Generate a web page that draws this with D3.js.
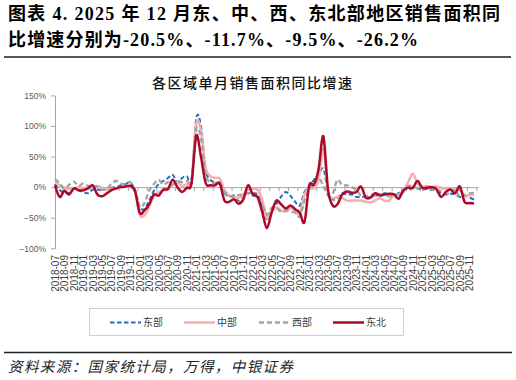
<!DOCTYPE html>
<html>
<head>
<meta charset="utf-8">
<script src="https://cdn.jsdelivr.net/npm/d3@7"></script>
<style>
    body { margin: 0; background: #fff; }
</style>
</head>
<body>
<div id="graph"></div>
<script>
// données : mois de 2018-07 à 2025-12
const months = d3.timeMonth.range(new Date(2018, 6, 1), new Date(2026, 0, 1)).map(d3.timeFormat("%Y-%m"))

// séries (%)
const east = [5, -5, -9, -9, -3, -5, -8, -10, -4, -4, -5, -3, -1, 0, 3, 5, 7, -5, -32, -36,
    -22, -6, 5, 10, 15, 20, 8, 15, 18, 10, 112, 100, 28, 12, 8, 5, -10, -15, -14, -22,
    -12, -10, -10, -12, -30, -52, -38, -28, -16, -8, -14, -24, -30, -8, 0, 12, 20, 30, -8, -20,
    -18, -10, -12, -12, -16, -16, -16, -16, -14, -13, -10, -12, -12, -10, -6, -3, -2, -2, -4, -3,
    -4, -6, -10, -12, -11, -12, -16, -14, -17, -20.5]
const central = [8, 3, -1, -3, -2, 0, -1, -2, 1, 2, -1, -3, -3, -2, 0, 1, 0, -8, -45, -46,
    -32, -15, -8, -6, -3, 4, 8, 2, 5, 8, 104, 92, 32, 18, 15, 14, -5, -14, -16, -18,
    -12, -4, -3, -4, -20, -50, -40, -33, -38, -40, -34, -38, -44, -12, -2, -2, 12, 62, -8, -18,
    -16, -18, -22, -22, -22, -22, -24, -25, -22, -18, -22, -22, -12, -12, -6, 8, 22, 6, 1, 2,
    0, 1, -1, -3, -2, -6, -5, -14, -13, -11.7]
const west = [13, 6, -2, 4, 9, 2, 6, 2, -1, 1, -4, -3, 6, 10, 6, 5, 8, -8, -32, -26,
    -6, 5, 12, 4, 8, 4, 10, 8, 10, 14, 93, 80, 20, 8, 7, 6, -8, -14, -16, -13,
    -12, -10, -14, -16, -28, -45, -34, -34, -40, -38, -40, -42, -48, -22, -4, 5, 15, 2, -14, -10,
    12, 3, 3, 0, -4, -14, -16, -12, -14, -15, -13, -15, -14, -12, -8, 2, 1, -2, -4, -1,
    -2, -7, -6, -10, -10, -4, -17, -13, -10, -9.5]
const northeast = [3, -16, -6, -12, -2, -5, -5, -2, 3, -12, -15, -10, -5, -2, 0, 1, 2, -6, -42, -38,
    -28, -12, -14, -4, -3, 12, 0, -8, -1, 6, 84, 50, 7, 3, 3, 6, -22, -24, -20, -27,
    -20, 3, -12, -16, -40, -67, -42, -22, -28, -35, -30, -36, -42, -57, 3, 4, 30, 83, -5, -30,
    -28, -12, -7, -9, -8, 1, -17, -17, -10, -13, -12, -11, -12, -19, -5, -1, -1, 10, -1, -1,
    0, -3, -16, -8, -4, -10, 1, -24, -26, -26.2]

const seriesNames = ["东部", "中部", "西部", "东北"]
const yTicks = [-100, -50, 0, 50, 100, 150]

const titleLines = ["图表 4. 2025 年 12 月东、中、西、东北部地区销售面积同",
    "比增速分别为-20.5%、-11.7%、-9.5%、-26.2%"]
const chartTitle = "各区域单月销售面积同比增速"
const sourceText = "资料来源：国家统计局，万得，中银证券"

// styles des séries
const styles = [
    { color: "#1f6fc0", width: 2, dash: "4.5,2.5" },
    { color: "#f2b0ae", width: 2.5, dash: null },
    { color: "#a3a3a3", width: 2.3, dash: "5,3" },
    { color: "#ab0a2a", width: 2.5, dash: null }
]
const allSeries = [east, central, west, northeast]

let svg = d3.select("#graph")
    .append("svg")
    .attr("width", 516)
    .attr("height", 380)

// titre principal
svg.append("g")
    .style("font-family", "'Liberation Serif', 'Noto Sans CJK SC', serif")
    .style("font-weight", "bold")
    .style("font-size", "18px")
    .selectAll("text")
    .data(titleLines)
    .enter()
    .append("text")
    .attr("x", 8)
    .attr("y", (d, i) => 20 + i * 26)
    .attr("textLength", (d, i) => i == 0 ? 492 : 410)
    .attr("lengthAdjust", "spacing")
    .text(d => d)

svg.append("line")
    .attr("x1", 4).attr("x2", 511)
    .attr("y1", 57).attr("y2", 57)
    .attr("stroke", "#555")
    .attr("stroke-width", 2)

// titre du graphique
svg.append("text")
    .text(chartTitle)
    .attr("x", 252)
    .attr("y", 88)
    .attr("text-anchor", "middle")
    .attr("textLength", 200)
    .attr("lengthAdjust", "spacing")
    .style("font-family", "'Noto Sans CJK SC'")
    .style("font-weight", "500")
    .style("font-size", "14px")
    .style("fill", "#111")

// échelles
let x = d3.scaleLinear()
    .domain([0, 89.85])
    .range([55, 478])

let y = d3.scaleLinear()
    .domain([-100, 150])
    .range([248.3, 95.4])

// axe Y
let yAxis = svg.append("g")
    .attr("transform", "translate(55,0)")
    .call(d3.axisLeft(y)
        .tickValues(yTicks)
        .tickFormat(d => (d < 0 ? "\u2212" + Math.abs(d) : d) + "%")
        .tickSize(4)
        .tickSizeOuter(0)
        .tickPadding(5))
yAxis.select(".domain").attr("stroke", "#a6a6a6")
yAxis.selectAll(".tick line").attr("stroke", "#a6a6a6")
yAxis.selectAll("text")
    .style("font-family", "'Liberation Sans', Arial")
    .style("font-size", "8.5px")
    .style("fill", "#595959")

// axe X sur la ligne du zéro
const tickPos = d3.range(2, 90, 2).map(i => i - 0.5).concat([89.5])
let xAxis = svg.append("g")
    .attr("transform", "translate(0," + y(0) + ")")
    .call(d3.axisBottom(x)
        .tickValues(tickPos)
        .tickFormat("")
        .tickSize(4)
        .tickSizeOuter(0))
xAxis.select(".domain").attr("stroke", "#a6a6a6")
xAxis.selectAll(".tick line").attr("stroke", "#a6a6a6")

// étiquettes des mois en bas
let labels = svg.append("g")
    .attr("transform", "translate(0,249)")
    .call(d3.axisBottom(x)
        .tickValues(d3.range(0, 90, 2))
        .tickFormat(i => months[i])
        .tickSize(0))
labels.select(".domain").remove()
labels.selectAll("text")
    .attr("transform", "rotate(-90)")
    .attr("text-anchor", "end")
    .attr("x", -6)
    .attr("y", 0)
    .attr("dy", "0.35em")
    .style("font-family", "'Liberation Sans', Arial")
    .style("font-size", "10px")
    .style("fill", "#404040")

// les lignes
const line = d3.line()
    .x((d, i) => x(i))
    .y(d => y(d))
    .curve(d3.curveCardinal)

svg.append("g")
    .selectAll("path")
    .data(allSeries)
    .enter()
    .append("path")
    .attr("d", d => line(d))
    .attr("fill", "none")
    .attr("stroke", (d, i) => styles[i].color)
    .attr("stroke-width", (d, i) => styles[i].width)
    .attr("stroke-dasharray", (d, i) => styles[i].dash)
    .attr("stroke-linejoin", "round")

// légende
svg.append("rect")
    .attr("x", 89.5).attr("y", 308.5)
    .attr("width", 314).attr("height", 27)
    .attr("fill", "none")
    .attr("stroke", "#d0d0d0")

const legendX = [110, 184, 259, 333]
let legend = svg.append("g")
    .selectAll("g")
    .data(seriesNames)
    .enter()
    .append("g")
    .attr("transform", (d, i) => "translate(" + legendX[i] + ",322.5)")

legend.append("line")
    .attr("x1", 0).attr("x2", 31)
    .attr("stroke", (d, i) => styles[i].color)
    .attr("stroke-width", (d, i) => styles[i].width)
    .attr("stroke-dasharray", (d, i) => styles[i].dash)

legend.append("text")
    .text(d => d)
    .attr("x", 33)
    .attr("dy", "0.35em")
    .style("font-family", "'Noto Sans CJK SC'")
    .style("font-size", "10px")
    .style("fill", "#404040")

// source
svg.append("line")
    .attr("x1", 4).attr("x2", 512)
    .attr("y1", 352.5).attr("y2", 352.5)
    .attr("stroke", "#222")
    .attr("stroke-width", 1.3)

svg.append("text")
    .text(sourceText)
    .attr("x", 8)
    .attr("y", 372)
    .attr("textLength", 285)
    .attr("lengthAdjust", "spacing")
    .style("font-family", "'Noto Sans CJK SC'")
    .style("font-style", "italic")
    .style("font-size", "14.5px")
    .style("fill", "#222")
</script>
</body>
</html>
